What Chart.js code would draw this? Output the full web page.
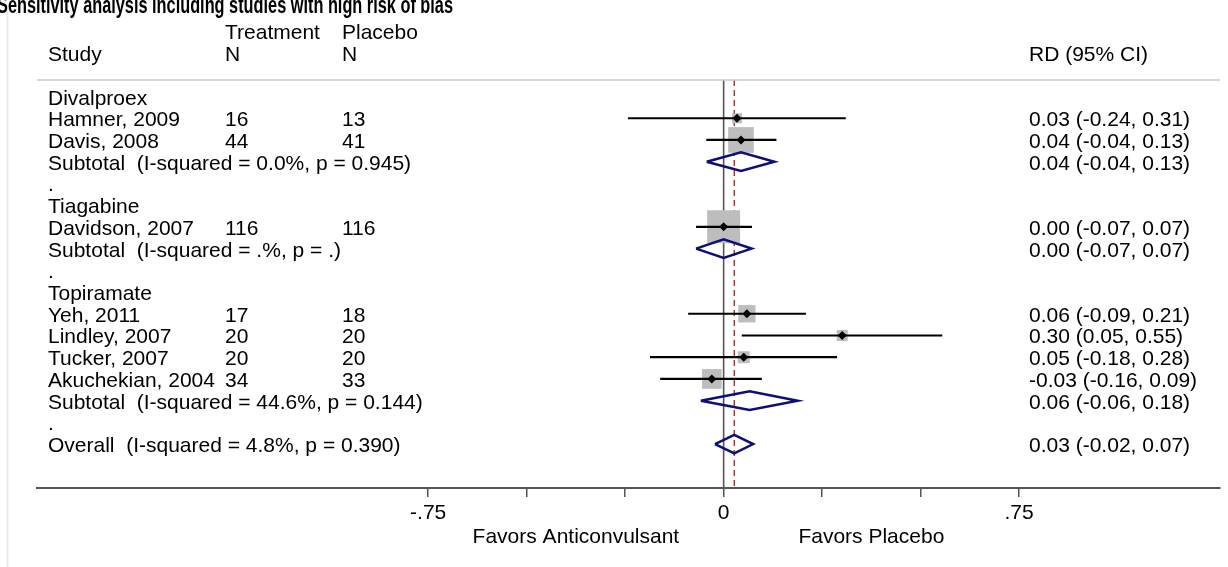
<!DOCTYPE html>
<html>
<head>
<meta charset="utf-8">
<script src="https://cdn.jsdelivr.net/npm/chart.js@4.4.1/dist/chart.umd.min.js"></script>
<style>
  html, body { margin: 0; padding: 0; background: #ffffff; overflow: hidden; }
  #wrap { position: relative; width: 1228px; height: 567px; }
  canvas { display: block; }
</style>
</head>
<body>
<div id="wrap"><canvas id="c" width="1228" height="567"></canvas></div>
<script>
// ---------------- DATA ----------------
const titleText = 'Sensitivity analysis including studies with high risk of bias';
const rowLabels = [
  'Divalproex', 'Hamner, 2009', 'Davis, 2008', 'Subtotal  (I-squared = 0.0%, p = 0.945)', '.',
  'Tiagabine', 'Davidson, 2007', 'Subtotal  (I-squared = .%, p = .)', '.',
  'Topiramate', 'Yeh, 2011', 'Lindley, 2007', 'Tucker, 2007', 'Akuchekian, 2004',
  'Subtotal  (I-squared = 44.6%, p = 0.144)', '.', 'Overall  (I-squared = 4.8%, p = 0.390)'
];
const rowKinds = [
  'group', 'study', 'study', 'subtotal', 'blank',
  'group', 'study', 'subtotal', 'blank',
  'group', 'study', 'study', 'study', 'study',
  'subtotal', 'blank', 'overall'
];
const treatmentN = ['', '16', '44', '', '', '', '116', '', '', '', '17', '20', '20', '34', '', '', ''];
const placeboN   = ['', '13', '41', '', '', '', '116', '', '', '', '18', '20', '20', '33', '', '', ''];
const rdEstimate = [null, 0.034, 0.044, 0.044, null, null, 0.000, 0.000, null, null, 0.059, 0.301, 0.051, -0.030, 0.066, null, 0.027];
const ciLower    = [null, -0.243, -0.044, -0.043, null, null, -0.070, -0.070, null, null, -0.090, 0.046, -0.187, -0.161, -0.058, null, -0.022];
const ciUpper    = [null, 0.310, 0.134, 0.129, null, null, 0.072, 0.071, null, null, 0.209, 0.555, 0.288, 0.097, 0.188, null, 0.075];
const weightPct  = [null, 3.6, 23.6, null, null, null, 38.9, null, null, null, 10.7, 4.3, 5.1, 13.9, null, null, null];
const rdLabels = [
  '', '0.03 (-0.24, 0.31)', '0.04 (-0.04, 0.13)', '0.04 (-0.04, 0.13)', '',
  '', '0.00 (-0.07, 0.07)', '0.00 (-0.07, 0.07)', '',
  '', '0.06 (-0.09, 0.21)', '0.30 (0.05, 0.55)', '0.05 (-0.18, 0.28)', '-0.03 (-0.16, 0.09)',
  '0.06 (-0.06, 0.18)', '', '0.03 (-0.02, 0.07)'
];
const headerLine1 = ['', 'Treatment', 'Placebo', ''];
const headerLine2 = ['Study', 'N', 'N', 'RD (95% CI)'];
const xTickValues = [-0.75, -0.5, -0.25, 0, 0.25, 0.5, 0.75];
const xTickLabels = ['-.75', '', '', '0', '', '', '.75'];
const favorsLabels = ['Favors Anticonvulsant', 'Favors Placebo'];
const favorsAt = [-0.375, 0.375];

// ---------------- STYLE / LAYOUT ----------------
const FONT = '"Liberation Sans", Arial, Helvetica, sans-serif';
const TEXT_SIZE = 21;
const X_MIN = -1.743, X_MAX = 1.26;
const Y_MIN = -0.76, Y_MAX = 18.02;
const COL_X = [48, 225, 342, 1029];
const BOX_SCALE = 5.29;       // px side per sqrt(weight)
const DIAMOND_HALF = 0.43;    // in row units
const NAVY = '#0e0e78';
const AXIS_GREY = '#555555';
const overallIdx = rowKinds.indexOf('overall');

// ---------------- DATASETS ----------------
const datasets = [];
datasets.push({
  data: [{x: 0, y: Y_MIN}, {x: 0, y: Y_MAX}],
  showLine: true, borderColor: AXIS_GREY, borderWidth: 1.6, pointRadius: 0, order: 50
});
datasets.push({
  data: [{x: rdEstimate[overallIdx], y: Y_MIN}, {x: rdEstimate[overallIdx], y: Y_MAX}],
  showLine: true, borderColor: '#b52a2a', borderWidth: 1.4, borderDash: [6, 4], pointRadius: 0, order: 49
});
const studyIdx = rowKinds.map((k, i) => k === 'study' ? i : -1).filter(i => i >= 0);
datasets.push({
  data: studyIdx.map(i => ({x: rdEstimate[i], y: i})),
  pointStyle: 'rect',
  pointRadius: studyIdx.map(i => BOX_SCALE * Math.sqrt(weightPct[i]) / Math.SQRT2),
  backgroundColor: '#bdbdbd', borderWidth: 0, showLine: false, order: 40
});
studyIdx.forEach(i => {
  datasets.push({
    data: [{x: ciLower[i], y: i}, {x: ciUpper[i], y: i}],
    showLine: true, borderColor: '#000000', borderWidth: 2.2, pointRadius: 0, order: 30
  });
});
rowKinds.forEach((k, i) => {
  if (k === 'subtotal' || k === 'overall') {
    datasets.push({
      data: [
        {x: ciLower[i], y: i}, {x: rdEstimate[i], y: i - DIAMOND_HALF},
        {x: ciUpper[i], y: i}, {x: rdEstimate[i], y: i + DIAMOND_HALF},
        {x: ciLower[i], y: i}
      ],
      showLine: true, borderColor: NAVY, borderWidth: 2.5, pointRadius: 0,
      borderJoinStyle: 'miter', tension: 0, fill: false, order: 20
    });
  }
});
datasets.push({
  data: studyIdx.map(i => ({x: rdEstimate[i], y: i})),
  pointStyle: 'rectRot', pointRadius: 4.5, backgroundColor: '#000000', borderWidth: 0,
  showLine: false, order: 10
});

// ---------------- TEXT PLUGIN ----------------
const textPlugin = {
  id: 'forestText',
  afterDraw(chart) {
    const ctx = chart.ctx, ys = chart.scales.y, xs = chart.scales.x, ca = chart.chartArea;
    ctx.save();
    // faint plot-region border
    ctx.strokeStyle = '#e3ebed'; ctx.lineWidth = 2;
    ctx.beginPath(); ctx.moveTo(7.5, 10); ctx.lineTo(7.5, 567); ctx.stroke();
    // separator under header
    ctx.strokeStyle = '#c8c8c8'; ctx.lineWidth = 1.5;
    ctx.beginPath(); ctx.moveTo(ca.left, ca.top); ctx.lineTo(ca.right, ca.top); ctx.stroke();
    // title (condensed bold)
    ctx.fillStyle = '#000000';
    ctx.textBaseline = 'alphabetic'; ctx.textAlign = 'left';
    ctx.font = 'bold 23px ' + FONT;
    const tw = ctx.measureText(titleText).width;
    ctx.save();
    ctx.translate(-3, 13);
    ctx.scale(456 / tw, 1);
    ctx.fillText(titleText, 0, 0);
    ctx.restore();
    // headers
    ctx.font = TEXT_SIZE + 'px ' + FONT;
    headerLine1.forEach((t, c) => { if (t) ctx.fillText(t, COL_X[c], ys.getPixelForValue(-3) + 8); });
    headerLine2.forEach((t, c) => { if (t) ctx.fillText(t, COL_X[c], ys.getPixelForValue(-2) + 8); });
    // rows
    rowLabels.forEach((t, i) => {
      const y = ys.getPixelForValue(i) + 8;
      ctx.fillText(t, COL_X[0], y);
      if (treatmentN[i]) ctx.fillText(treatmentN[i], COL_X[1], y);
      if (placeboN[i]) ctx.fillText(placeboN[i], COL_X[2], y);
      if (rdLabels[i]) ctx.fillText(rdLabels[i], COL_X[3], y);
    });
    // favours labels
    ctx.textAlign = 'center';
    favorsLabels.forEach((t, k) => ctx.fillText(t, xs.getPixelForValue(favorsAt[k]), 543));
    ctx.restore();
  }
};

// ---------------- CHART ----------------
new Chart(document.getElementById('c'), {
  type: 'scatter',
  data: { datasets },
  options: {
    responsive: false, animation: false,
    layout: { autoPadding: false, padding: { left: 37, right: 8, top: 80, bottom: 0 } },
    plugins: { legend: { display: false }, tooltip: { enabled: false }, title: { display: false } },
    scales: {
      x: {
        type: 'linear', position: 'bottom', min: X_MIN, max: X_MAX,
        afterBuildTicks(scale) { scale.ticks = xTickValues.map(v => ({value: v})); },
        afterFit(scale) { scale.height = 79; },
        ticks: {
          autoSkip: false, maxRotation: 0, minRotation: 0, padding: 4, color: '#000000',
          font: { family: FONT, size: TEXT_SIZE },
          callback(v) { const k = xTickValues.indexOf(v); return k >= 0 ? xTickLabels[k] : ''; }
        },
        grid: { drawOnChartArea: false, drawTicks: true, tickLength: 9, lineWidth: 1.5, color: AXIS_GREY },
        border: { display: true, color: AXIS_GREY, width: 2 }
      },
      y: { type: 'linear', display: false, reverse: true, min: Y_MIN, max: Y_MAX }
    }
  },
  plugins: [textPlugin]
});
</script>
</body>
</html>
